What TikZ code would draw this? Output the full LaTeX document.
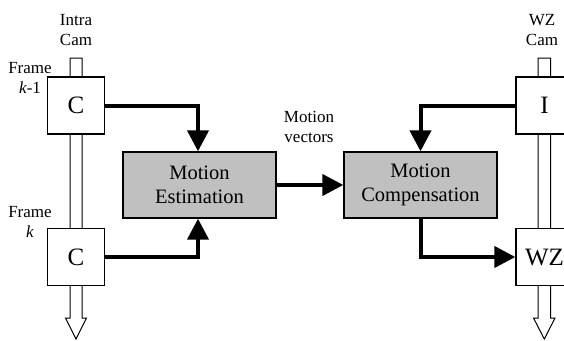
\documentclass[tikz,border=0pt]{standalone}
\usepackage{fontspec}
\setmainfont{Liberation Serif}
\usetikzlibrary{arrows.meta}
\definecolor{procgray}{RGB}{192,192,192}
\begin{document}
\begin{tikzpicture}[x=1pt,y=-1pt,
  framebox/.style={draw,line width=1.3pt,fill=white,minimum width=57pt,minimum height=57pt,
    inner sep=0pt,font=\fontsize{25}{28}\selectfont},
  proc/.style={draw,line width=1.3pt,fill=procgray,minimum width=153pt,minimum height=66pt,
    inner sep=0pt,align=center,font=\fontsize{20.5}{24}\selectfont},
  lbl/.style={align=center,font=\fontsize{17}{20}\selectfont,inner sep=0pt},
  flow/.style={line width=4pt,-{Triangle[width=21pt,length=21pt]}},
  pipe/.style={line width=1pt,fill=white}]
\clip (0,0) rectangle (564,340);

% frame streams of both cameras (drawn under the frame boxes)
\draw[pipe] (70,77)--(70,58)--(82,58)--(82,318)--(86.5,318)--(76,339)--(65.5,318)--(70,318)--cycle;
\draw[pipe] (538,77)--(538,58)--(550.5,58)--(550.5,318)--(555,318)--(544.3,339)--(533.5,318)--(538,318)--cycle;

% frames
\node[framebox] (cprev) at (76,105.5) {C};
\node[framebox] (ccur)  at (76,257) {C};
\node[framebox] (ikey)  at (544.5,105.5) {I};
\node[framebox] (wz)    at (544.5,257) {WZ};

% processing blocks
\node[proc] (me) at (199.5,185) {Motion\\Estimation};
\node[proc] (mc) at (420.5,185) {Motion\\Compensation};

% labels (base anchor sits on the last line)
\node[lbl,anchor=base] (intra) at (76,45) {Intra\\Cam};
\node[lbl,anchor=base] (wzcam) at (542,45) {WZ\\Cam};
\node[lbl,anchor=base] (fprev) at (30,93) {Frame\\\textit{k}-1};
\node[lbl,anchor=base] (fcur)  at (30,237) {Frame\\\textit{k}};
\node[lbl,anchor=base] (mv)    at (309,142) {Motion\\vectors};

% data flow
\draw[flow] (cprev.east) -| (me.north -| 198,0);
\draw[flow] (ccur.east) -| (me.south -| 198,0);
\draw[flow] (me.east) -- (mc.west);
\draw[flow] (ikey.west) -| (mc.north);
\draw[flow] (mc.south) |- (wz.west);
\end{tikzpicture}
\end{document}
